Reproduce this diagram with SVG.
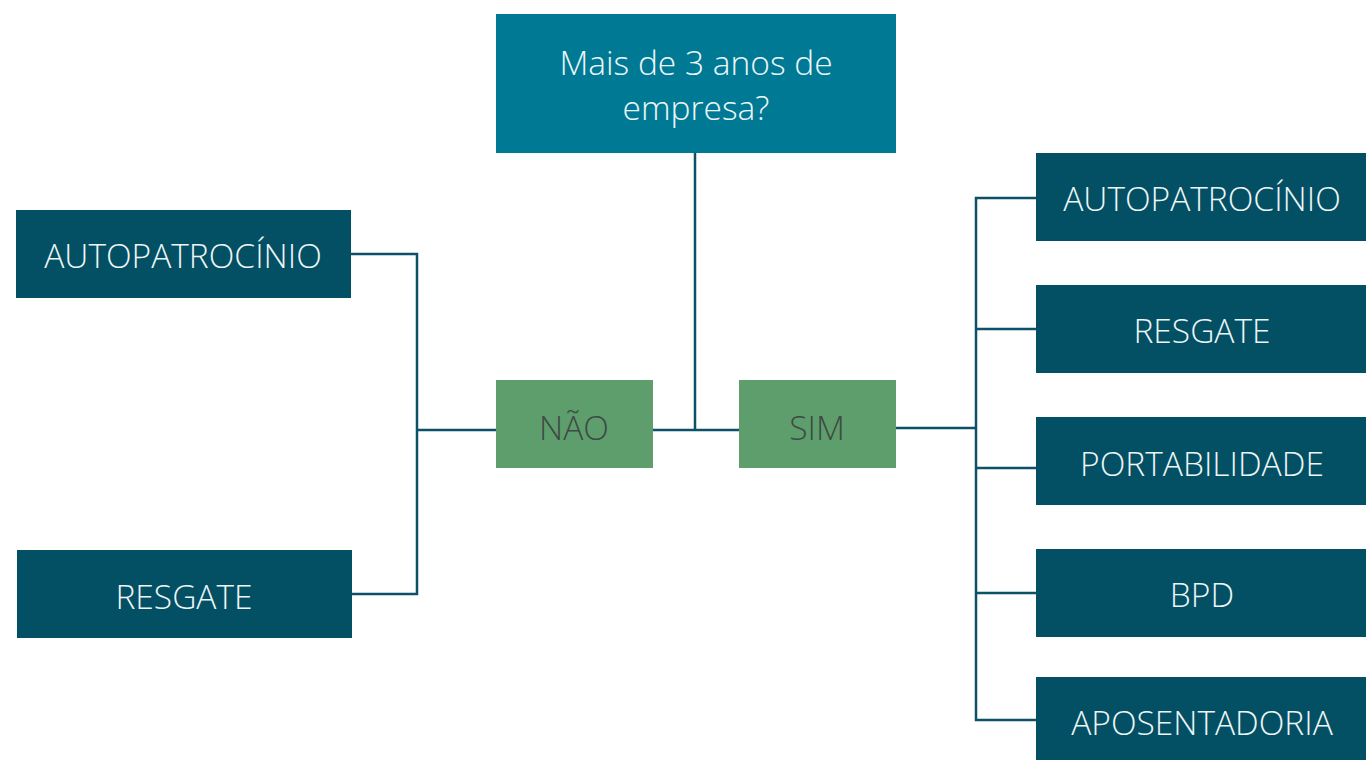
<svg xmlns="http://www.w3.org/2000/svg" width="1366" height="760" viewBox="0 0 1366 760">
<style>
.dark{fill:#034f63}
.q{fill:#007a94}
.g{fill:#5d9e6c}
.t{font-family:"Open Sans","Liberation Sans",sans-serif;font-weight:300;font-size:33.5px;text-anchor:middle;fill:#eef6f8}
.tg{font-family:"Open Sans","Liberation Sans",sans-serif;font-weight:300;font-size:33.5px;text-anchor:middle;fill:#3f4a44}
.c{fill:none;stroke:#0b5268;stroke-width:2.5}
</style>
<rect width="1366" height="760" fill="#ffffff"/>
<g id="connectors">
<polyline class="c" points="351,254 417,254 417,594 352,594"/>
<line class="c" x1="417" y1="430" x2="496" y2="430"/>
<line class="c" x1="653" y1="430" x2="739" y2="430"/>
<line class="c" x1="695" y1="153" x2="695" y2="430"/>
<line class="c" x1="896" y1="428" x2="976" y2="428"/>
<polyline class="c" points="1036,198 976,198 976,720 1036,720"/>
<line class="c" x1="976" y1="329" x2="1036" y2="329"/>
<line class="c" x1="976" y1="468" x2="1036" y2="468"/>
<line class="c" x1="976" y1="593" x2="1036" y2="593"/>
</g>
<g id="question">
<rect class="q" x="496" y="14" width="400" height="139"/>
<text class="t" x="696" y="75">Mais de 3 anos de</text>
<text class="t" x="696" y="120">empresa?</text>
</g>
<g id="nao">
<rect class="g" x="496" y="380" width="157" height="88"/>
<text class="tg" x="574" y="440">NÃO</text>
</g>
<g id="sim">
<rect class="g" x="739" y="380" width="157" height="88"/>
<text class="tg" x="817" y="440">SIM</text>
</g>
<g id="left-autopatrocinio">
<rect class="dark" x="16" y="210" width="335" height="88"/>
<text class="t" x="183" y="268">AUTOPATROCÍNIO</text>
</g>
<g id="left-resgate">
<rect class="dark" x="17" y="550" width="335" height="88"/>
<text class="t" x="184" y="609">RESGATE</text>
</g>
<g id="right-autopatrocinio">
<rect class="dark" x="1036" y="153" width="330" height="88"/>
<text class="t" x="1202" y="211">AUTOPATROCÍNIO</text>
</g>
<g id="right-resgate">
<rect class="dark" x="1036" y="285" width="330" height="88"/>
<text class="t" x="1202" y="343">RESGATE</text>
</g>
<g id="right-portabilidade">
<rect class="dark" x="1036" y="417" width="330" height="88"/>
<text class="t" x="1202" y="476">PORTABILIDADE</text>
</g>
<g id="right-bpd">
<rect class="dark" x="1036" y="549" width="330" height="88"/>
<text class="t" x="1202" y="607">BPD</text>
</g>
<g id="right-aposentadoria">
<rect class="dark" x="1036" y="677" width="330" height="88"/>
<text class="t" x="1202" y="735">APOSENTADORIA</text>
</g>
</svg>
